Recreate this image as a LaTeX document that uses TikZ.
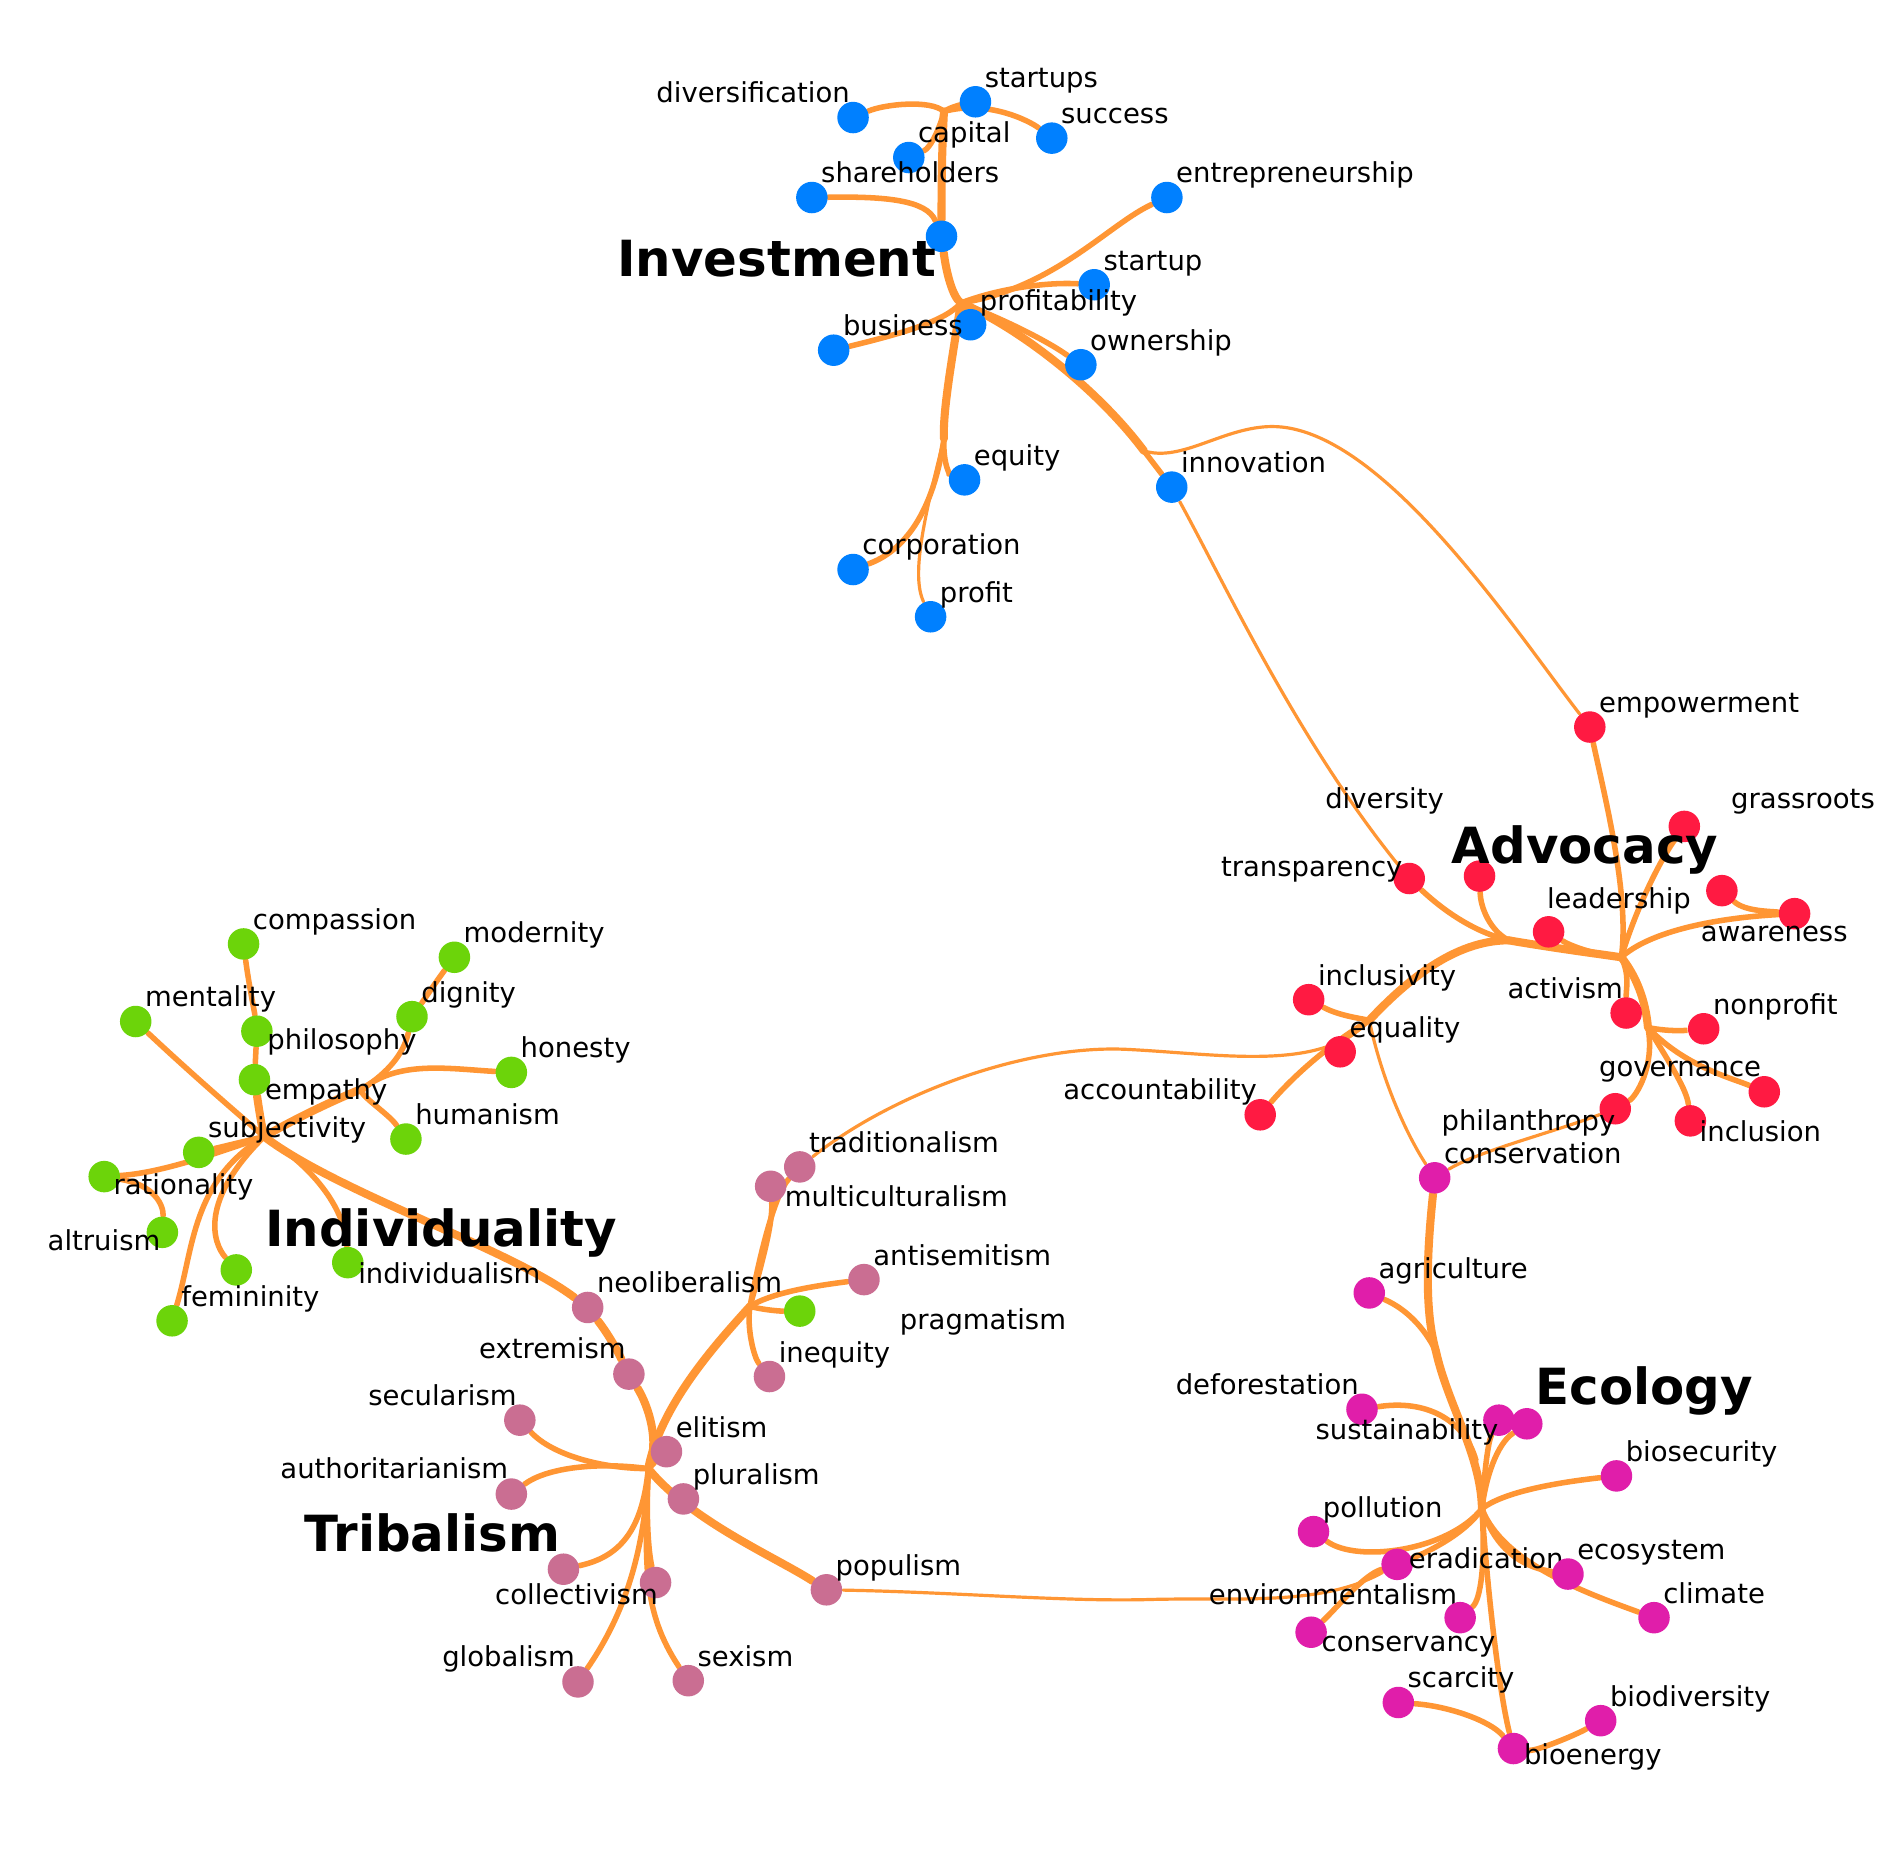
\documentclass[tikz,border=0pt]{standalone}
\usepackage{fontspec}
\setmainfont{DejaVu Sans}
\usetikzlibrary{backgrounds}

\definecolor{invblue}{RGB}{0,128,255}
\definecolor{advred}{RGB}{255,26,66}
\definecolor{indgreen}{RGB}{108,212,10}
\definecolor{tripink}{RGB}{202,110,146}
\definecolor{ecomag}{RGB}{224,30,170}
\definecolor{linkorange}{RGB}{255,150,52}

\tikzset{
  term/.style={circle,minimum size=2.6mm,inner sep=0pt},
  inv/.style={term,fill=invblue},
  adv/.style={term,fill=advred},
  ind/.style={term,fill=indgreen},
  tri/.style={term,fill=tripink},
  eco/.style={term,fill=ecomag},
  lbl/.style={font=\fontsize{6.45}{7.7}\selectfont,inner sep=0pt},
  lblr/.style={lbl,anchor=base west,xshift=0.7mm,yshift=1.2mm},
  lbll/.style={lbl,anchor=base east,xshift=-0.2mm,yshift=1.25mm},
  title/.style={font=\bfseries\fontsize{11.7}{14}\selectfont,inner sep=0pt,anchor=base},
  strand/.style={draw=linkorange,line width=0.75pt,line cap=round},
  bundle/.style={draw=linkorange,line width=1.3pt,line cap=round},
  trunk/.style={draw=linkorange,line width=1.9pt,line cap=round}
}

\begin{document}
\begin{tikzpicture}[x=0.1mm,y=-0.1mm]
			% Investment
			\node[inv] (diversification) at (704,97) {};
			\node[lbll] (diversification-t) at (diversification.center) {diversification};
			\node[inv] (startups) at (805,84) {};
			\node[lblr] (startups-t) at (startups.center) {startups};
			\node[inv] (success) at (868,114) {};
			\node[lblr] (success-t) at (success.center) {success};
			\node[inv] (capital) at (750,130) {};
			\node[lblr] (capital-t) at (capital.center) {capital};
			\node[inv] (shareholders) at (670,163) {};
			\node[lblr] (shareholders-t) at (shareholders.center) {shareholders};
			\node[inv] (entrepreneurship) at (963,163) {};
			\node[lblr] (entrepreneurship-t) at (entrepreneurship.center) {entrepreneurship};
			\node[inv] (invcore) at (777,195) {};
			\node[inv] (startup) at (903,235) {};
			\node[lblr] (startup-t) at (startup.center) {startup};
			\node[inv] (profitability) at (801,268) {};
			\node[lblr] (profitability-t) at (profitability.center) {profitability};
			\node[inv] (business) at (688,289) {};
			\node[lblr] (business-t) at (business.center) {business};
			\node[inv] (ownership) at (892,301) {};
			\node[lblr] (ownership-t) at (ownership.center) {ownership};
			\node[inv] (equity) at (796,396) {};
			\node[lblr] (equity-t) at (equity.center) {equity};
			\node[inv] (innovation) at (967,402) {};
			\node[lblr] (innovation-t) at (innovation.center) {innovation};
			\node[inv] (corporation) at (704,470) {};
			\node[lblr] (corporation-t) at (corporation.center) {corporation};
			\node[inv] (profit) at (768,509) {};
			\node[lblr] (profit-t) at (profit.center) {profit};
			\node[title] (investment-t) at (641,228) {Investment};

			% Advocacy
			\node[adv] (empowerment) at (1312,600) {};
			\node[lblr] (empowerment-t) at (empowerment.center) {empowerment};
			\node[adv] (grassroots) at (1390,682) {};
			\node[lbl,anchor=base west] (grassroots-t) at (1428,667) {grassroots};
			\node[adv] (diversity) at (1221,723) {};
			\node[lbl,anchor=base west] (diversity-t) at (1093,667) {diversity};
			\node[adv] (transparency) at (1163,725) {};
			\node[lbl,anchor=base east] (transparency-t) at (1158,723) {transparency};
			\node[adv] (advcore) at (1421,735) {};
			\node[adv] (awareness) at (1481,754) {};
			\node[lbl,anchor=base west] (awareness-t) at (1403,777) {awareness};
			\node[adv] (leadership) at (1278,769) {};
			\node[lbl,anchor=base west] (leadership-t) at (1276,750) {leadership};
			\node[adv] (inclusivity) at (1080,825) {};
			\node[lblr] (inclusivity-t) at (inclusivity.center) {inclusivity};
			\node[adv] (activism) at (1342,836) {};
			\node[lbl,anchor=base east] (activism-t) at (1340,824) {activism};
			\node[adv] (nonprofit) at (1406,849) {};
			\node[lblr] (nonprofit-t) at (nonprofit.center) {nonprofit};
			\node[adv] (equality) at (1106,868) {};
			\node[lblr] (equality-t) at (equality.center) {equality};
			\node[adv] (governance) at (1456,901) {};
			\node[lbll] (governance-t) at (governance.center) {governance};
			\node[adv] (philanthropy) at (1333,915) {};
			\node[lbl,anchor=base west] (philanthropy-t) at (1189,933) {philanthropy};
			\node[adv] (inclusion) at (1395,925) {};
			\node[lbl,anchor=base west] (inclusion-t) at (1402,942) {inclusion};
			\node[adv] (accountability) at (1040,920) {};
			\node[lbll] (accountability-t) at (accountability.center) {accountability};
			\node[title] (advocacy-t) at (1308,713) {Advocacy};

			% Individuality
			\node[ind] (compassion) at (201,779) {};
			\node[lblr] (compassion-t) at (compassion.center) {compassion};
			\node[ind] (modernity) at (375,790) {};
			\node[lblr] (modernity-t) at (modernity.center) {modernity};
			\node[ind] (mentality) at (112,843) {};
			\node[lblr] (mentality-t) at (mentality.center) {mentality};
			\node[ind] (dignity) at (340,839) {};
			\node[lblr] (dignity-t) at (dignity.center) {dignity};
			\node[ind] (philosophy) at (212,851) {};
			\node[lbl,anchor=base west] (philosophy-t) at (220,866) {philosophy};
			\node[ind] (honesty) at (422,885) {};
			\node[lblr] (honesty-t) at (honesty.center) {honesty};
			\node[ind] (empathy) at (210,891) {};
			\node[lbl,anchor=base west] (empathy-t) at (218,907) {empathy};
			\node[ind] (humanism) at (335,940) {};
			\node[lblr] (humanism-t) at (humanism.center) {humanism};
			\node[ind] (subjectivity) at (164,951) {};
			\node[lblr] (subjectivity-t) at (subjectivity.center) {subjectivity};
			\node[ind] (rationality) at (86,971) {};
			\node[lbl,anchor=base west] (rationality-t) at (93,986) {rationality};
			\node[ind] (altruism) at (134,1017) {};
			\node[lbl,anchor=base east] (altruism-t) at (133,1032) {altruism};
			\node[ind] (indcore) at (195,1048) {};
			\node[ind] (individualism) at (287,1042) {};
			\node[lbl,anchor=base west] (individualism-t) at (295,1059) {individualism};
			\node[ind] (femininity) at (142,1090) {};
			\node[lblr] (femininity-t) at (femininity.center) {femininity};
			\node[ind] (pragmatism) at (660,1082) {};
			\node[lbl,anchor=base west] (pragmatism-t) at (742,1097) {pragmatism};
			\node[title] (individuality-t) at (364,1029) {Individuality};

			% Tribalism
			\node[tri] (traditionalism) at (660,963) {};
			\node[lblr] (traditionalism-t) at (traditionalism.center) {traditionalism};
			\node[tri] (multiculturalism) at (636,979) {};
			\node[lbl,anchor=base west] (multiculturalism-t) at (647,996) {multiculturalism};
			\node[tri] (antisemitism) at (713,1056) {};
			\node[lblr] (antisemitism-t) at (antisemitism.center) {antisemitism};
			\node[tri] (neoliberalism) at (485,1079) {};
			\node[lblr] (neoliberalism-t) at (neoliberalism.center) {neoliberalism};
			\node[tri] (extremism) at (519,1134) {};
			\node[lbll] (extremism-t) at (extremism.center) {extremism};
			\node[tri] (inequity) at (635,1136) {};
			\node[lblr] (inequity-t) at (inequity.center) {inequity};
			\node[tri] (secularism) at (429,1172) {};
			\node[lbll] (secularism-t) at (secularism.center) {secularism};
			\node[tri] (elitism) at (550,1198) {};
			\node[lblr] (elitism-t) at (elitism.center) {elitism};
			\node[tri] (authoritarianism) at (422,1233) {};
			\node[lbll] (authoritarianism-t) at (authoritarianism.center) {authoritarianism};
			\node[tri] (pluralism) at (564,1237) {};
			\node[lblr] (pluralism-t) at (pluralism.center) {pluralism};
			\node[tri] (tribcore) at (465,1295) {};
			\node[tri] (collectivism) at (541,1306) {};
			\node[lbl,anchor=base west] (collectivism-t) at (408,1324) {collectivism};
			\node[tri] (populism) at (682,1312) {};
			\node[lblr] (populism-t) at (populism.center) {populism};
			\node[tri] (globalism) at (477,1388) {};
			\node[lbll] (globalism-t) at (globalism.center) {globalism};
			\node[tri] (sexism) at (568,1387) {};
			\node[lblr] (sexism-t) at (sexism.center) {sexism};
			\node[title] (tribalism-t) at (357,1280) {Tribalism};

			% Ecology
			\node[eco] (conservation) at (1184,972) {};
			\node[lblr] (conservation-t) at (conservation.center) {conservation};
			\node[eco] (agriculture) at (1130,1067) {};
			\node[lblr] (agriculture-t) at (agriculture.center) {agriculture};
			\node[eco] (deforestation) at (1124,1163) {};
			\node[lbll] (deforestation-t) at (deforestation.center) {deforestation};
			\node[eco] (sustainability) at (1237,1172) {};
			\node[lbl,anchor=base west] (sustainability-t) at (1085,1188) {sustainability};
			\node[eco] (ecocore) at (1260,1175) {};
			\node[eco] (biosecurity) at (1334,1218) {};
			\node[lblr] (biosecurity-t) at (biosecurity.center) {biosecurity};
			\node[eco] (pollution) at (1084,1264) {};
			\node[lblr] (pollution-t) at (pollution.center) {pollution};
			\node[eco] (eradication) at (1153,1291) {};
			\node[lbl,anchor=base west] (eradication-t) at (1162,1294) {eradication};
			\node[eco] (ecosystem) at (1294,1299) {};
			\node[lblr] (ecosystem-t) at (ecosystem.center) {ecosystem};
			\node[eco] (environmentalism) at (1082,1347) {};
			\node[lbl,anchor=base west] (environmentalism-t) at (997,1324) {environmentalism};
			\node[eco] (climate) at (1365,1335) {};
			\node[lblr] (climate-t) at (climate.center) {climate};
			\node[eco] (conservancy) at (1205,1335) {};
			\node[lbl,anchor=base west] (conservancy-t) at (1090,1363) {conservancy};
			\node[eco] (scarcity) at (1154,1405) {};
			\node[lblr] (scarcity-t) at (scarcity.center) {scarcity};
			\node[eco] (biodiversity) at (1321,1420) {};
			\node[lblr] (biodiversity-t) at (biodiversity.center) {biodiversity};
			\node[eco] (bioenergy) at (1249,1443) {};
			\node[lbl,anchor=base west] (bioenergy-t) at (1257,1456) {bioenergy};
			\node[title] (ecology-t) at (1357,1159) {Ecology};

			% junctions of the bundles
			\coordinate (itop) at (779,92);
			\coordinate (ihub) at (793,250);
			\coordinate (ilow) at (779,362);
			\coordinate (ifork) at (944,372);
			\coordinate (ibend) at (1050,352);
			\coordinate (ahubl) at (1245,776);
			\coordinate (ahubr) at (1338,790);
			\coordinate (adown) at (1360,848);
			\coordinate (ajunc) at (1130,842);
			\coordinate (abend) at (930,866);
			\coordinate (tup) at (619,1078);
			\coordinate (thub) at (535,1212);
			\coordinate (pbend) at (949,1320);
			\coordinate (indhub) at (218,938);
			\coordinate (idig) at (300,898);
			\coordinate (eknee) at (1185,1115);
			\coordinate (ehigh) at (1218,1205);
			\coordinate (ehub) at (1223,1245);

			\begin{scope}[on background layer]
			\path[use as bounding box,fill=white] (0,0) rectangle (1568,1528);

			% Investment
			\draw[bundle] (diversification) .. controls (730,86) and (768,82) .. (itop);
			\draw[bundle] (startups) .. controls (795,86) and (785,88) .. (itop);
			\draw[bundle] (success) .. controls (850,100) and (815,82) .. (itop);
			\draw[bundle] (capital) .. controls (768,122) and (776,105) .. (itop);
			\draw[trunk] (itop) .. controls (777,130) and (777,160) .. (invcore);
			\draw[bundle] (shareholders) .. controls (730,162) and (765,165) .. (invcore);
			\draw[trunk] (invcore) .. controls (781,225) and (786,245) .. (ihub);
			\draw[bundle] (entrepreneurship) .. controls (915,185) and (870,238) .. (ihub);
			\draw[bundle] (startup) .. controls (870,233) and (830,236) .. (ihub);
			\draw[bundle] (profitability) -- (ihub);
			\draw[bundle] (business) .. controls (745,275) and (780,265) .. (ihub);
			\draw[bundle] (ownership) .. controls (862,280) and (825,262) .. (ihub);
			\draw[trunk] (ihub) .. controls (840,270) and (905,320) .. (ifork);
			\draw[bundle] (ifork) -- (innovation);
			\draw[strand] (ifork) .. controls (975,382) and (1010,352) .. (ibend) .. controls (1140,352) and (1250,520) .. (empowerment);
			\draw[trunk] (ihub) .. controls (785,300) and (778,340) .. (ilow);
			\draw[bundle] (ilow) .. controls (778,385) and (785,392) .. (equity);
			\draw[bundle] (ilow) .. controls (770,425) and (745,455) .. (corporation);
			\draw[strand] (ilow) .. controls (762,430) and (752,475) .. (profit);
			\draw[strand] (innovation) .. controls (1010,480) and (1070,610) .. (transparency);

			% Advocacy
			\draw[bundle] (transparency) .. controls (1195,755) and (1220,770) .. (ahubl);
			\draw[bundle] (diversity) .. controls (1222,750) and (1230,768) .. (ahubl);
			\draw[trunk] (ahubl) .. controls (1280,782) and (1310,786) .. (ahubr);
			\draw[bundle] (leadership) .. controls (1295,780) and (1315,788) .. (ahubr);
			\draw[bundle] (empowerment) .. controls (1325,660) and (1345,740) .. (ahubr);
			\draw[bundle] (grassroots) .. controls (1370,710) and (1350,750) .. (ahubr);
			\draw[bundle] (advcore) .. controls (1440,752) and (1460,752) .. (awareness);
			\draw[bundle] (awareness) .. controls (1410,758) and (1360,770) .. (ahubr);
			\draw[bundle] (ahubr) .. controls (1345,805) and (1342,815) .. (activism);
			\draw[trunk] (ahubr) .. controls (1350,805) and (1358,825) .. (adown);
			\draw[bundle] (adown) .. controls (1380,852) and (1395,850) .. (nonprofit);
			\draw[bundle] (adown) .. controls (1390,880) and (1430,890) .. (governance);
			\draw[bundle] (adown) .. controls (1380,880) and (1392,900) .. (inclusion);
			\draw[bundle] (adown) .. controls (1366,880) and (1350,905) .. (philanthropy);
			\draw[strand] (philanthropy) .. controls (1280,935) and (1220,950) .. (conservation);
			\draw[trunk] (ahubl) .. controls (1200,776) and (1160,810) .. (ajunc);
			\draw[bundle] (inclusivity) .. controls (1105,838) and (1120,840) .. (ajunc);
			\draw[bundle] (ajunc) .. controls (1120,850) and (1110,858) .. (equality);
			\draw[bundle] (ajunc) .. controls (1100,860) and (1070,885) .. (accountability);
			\draw[strand] (ajunc) .. controls (1140,890) and (1160,935) .. (conservation);
			\draw[strand] (ajunc) .. controls (1090,885) and (1010,870) .. (abend) .. controls (850,862) and (740,900) .. (traditionalism);

			% Tribalism
			\draw[bundle] (traditionalism) .. controls (640,985) and (628,1030) .. (tup);
			\draw[bundle] (multiculturalism) .. controls (638,1010) and (628,1045) .. (tup);
			\draw[bundle] (antisemitism) .. controls (665,1062) and (635,1068) .. (tup);
			\draw[bundle] (pragmatism) .. controls (640,1082) and (625,1080) .. (tup);
			\draw[bundle] (inequity) .. controls (622,1120) and (616,1095) .. (tup);
			\draw[trunk] (tup) .. controls (590,1110) and (545,1160) .. (thub);
			\draw[trunk] (neoliberalism) .. controls (505,1105) and (512,1120) .. (extremism);
			\draw[trunk] (extremism) .. controls (535,1160) and (545,1190) .. (thub);
			\draw[bundle] (secularism) .. controls (455,1200) and (495,1212) .. (thub);
			\draw[bundle] (authoritarianism) .. controls (450,1212) and (490,1206) .. (thub);
			\draw[bundle] (elitism) -- (thub);
			\draw[bundle] (pluralism) .. controls (550,1228) and (540,1220) .. (thub);
			\draw[trunk] (populism) .. controls (640,1285) and (570,1255) .. (thub);
			\draw[bundle] (tribcore) .. controls (510,1285) and (530,1265) .. (thub);
			\draw[bundle] (collectivism) .. controls (535,1280) and (533,1250) .. (thub);
			\draw[bundle] (globalism) .. controls (510,1340) and (532,1290) .. (thub);
			\draw[bundle] (sexism) .. controls (530,1330) and (532,1290) .. (thub);
			\draw[strand] (populism) .. controls (790,1314) and (880,1322) .. (pbend) .. controls (1020,1318) and (1090,1326) .. (eradication);

			% Individuality
			\draw[trunk] (indhub) .. controls (280,985) and (420,1030) .. (neoliberalism);
			\draw[bundle] (compassion) .. controls (205,810) and (210,835) .. (philosophy);
			\draw[bundle] (philosophy) -- (empathy);
			\draw[trunk] (empathy) .. controls (213,910) and (215,925) .. (indhub);
			\draw[bundle] (mentality) .. controls (160,888) and (195,918) .. (indhub);
			\draw[bundle] (modernity) .. controls (360,810) and (350,825) .. (dignity);
			\draw[bundle] (dignity) .. controls (333,870) and (320,885) .. (idig);
			\draw[trunk] (idig) .. controls (275,908) and (240,925) .. (indhub);
			\draw[bundle] (honesty) .. controls (370,882) and (330,875) .. (idig);
			\draw[bundle] (humanism) .. controls (320,918) and (290,900) .. (idig);
			\draw[bundle] (subjectivity) -- (indhub);
			\draw[bundle] (rationality) .. controls (130,968) and (170,955) .. (indhub);
			\draw[bundle] (altruism) .. controls (135,995) and (128,978) .. (rationality);
			\draw[bundle] (femininity) .. controls (160,1030) and (158,975) .. (indhub);
			\draw[bundle] (indcore) .. controls (175,1025) and (165,990) .. (indhub);
			\draw[bundle] (individualism) .. controls (285,1000) and (262,965) .. (indhub);

			% Ecology
			\draw[trunk] (conservation) .. controls (1178,1030) and (1175,1080) .. (eknee);
			\draw[trunk] (eknee) .. controls (1195,1160) and (1222,1200) .. (ehub);
			\draw[bundle] (agriculture) .. controls (1160,1080) and (1175,1095) .. (eknee);
			\draw[bundle] (deforestation) .. controls (1175,1155) and (1208,1170) .. (ehigh);
			\draw[bundle] (sustainability) .. controls (1228,1190) and (1225,1215) .. (ehub);
			\draw[bundle] (ecocore) .. controls (1235,1192) and (1226,1220) .. (ehub);
			\draw[bundle] (biosecurity) .. controls (1280,1224) and (1240,1232) .. (ehub);
			\draw[bundle] (pollution) .. controls (1120,1290) and (1195,1280) .. (ehub);
			\draw[bundle] (eradication) .. controls (1180,1280) and (1210,1265) .. (ehub);
			\draw[bundle] (environmentalism) .. controls (1105,1325) and (1125,1300) .. (eradication);
			\draw[bundle] (ecosystem) .. controls (1262,1294) and (1236,1284) .. (ehub);
			\draw[bundle] (climate) .. controls (1310,1315) and (1240,1290) .. (ehub);
			\draw[bundle] (conservancy) .. controls (1222,1320) and (1226,1290) .. (ehub);
			\draw[bundle] (bioenergy) .. controls (1238,1400) and (1228,1320) .. (ehub);
			\draw[bundle] (scarcity) .. controls (1195,1408) and (1230,1420) .. (bioenergy);
			\draw[bundle] (biodiversity) .. controls (1300,1432) and (1268,1445) .. (bioenergy);
			\end{scope}
		\end{tikzpicture}
\end{document}
